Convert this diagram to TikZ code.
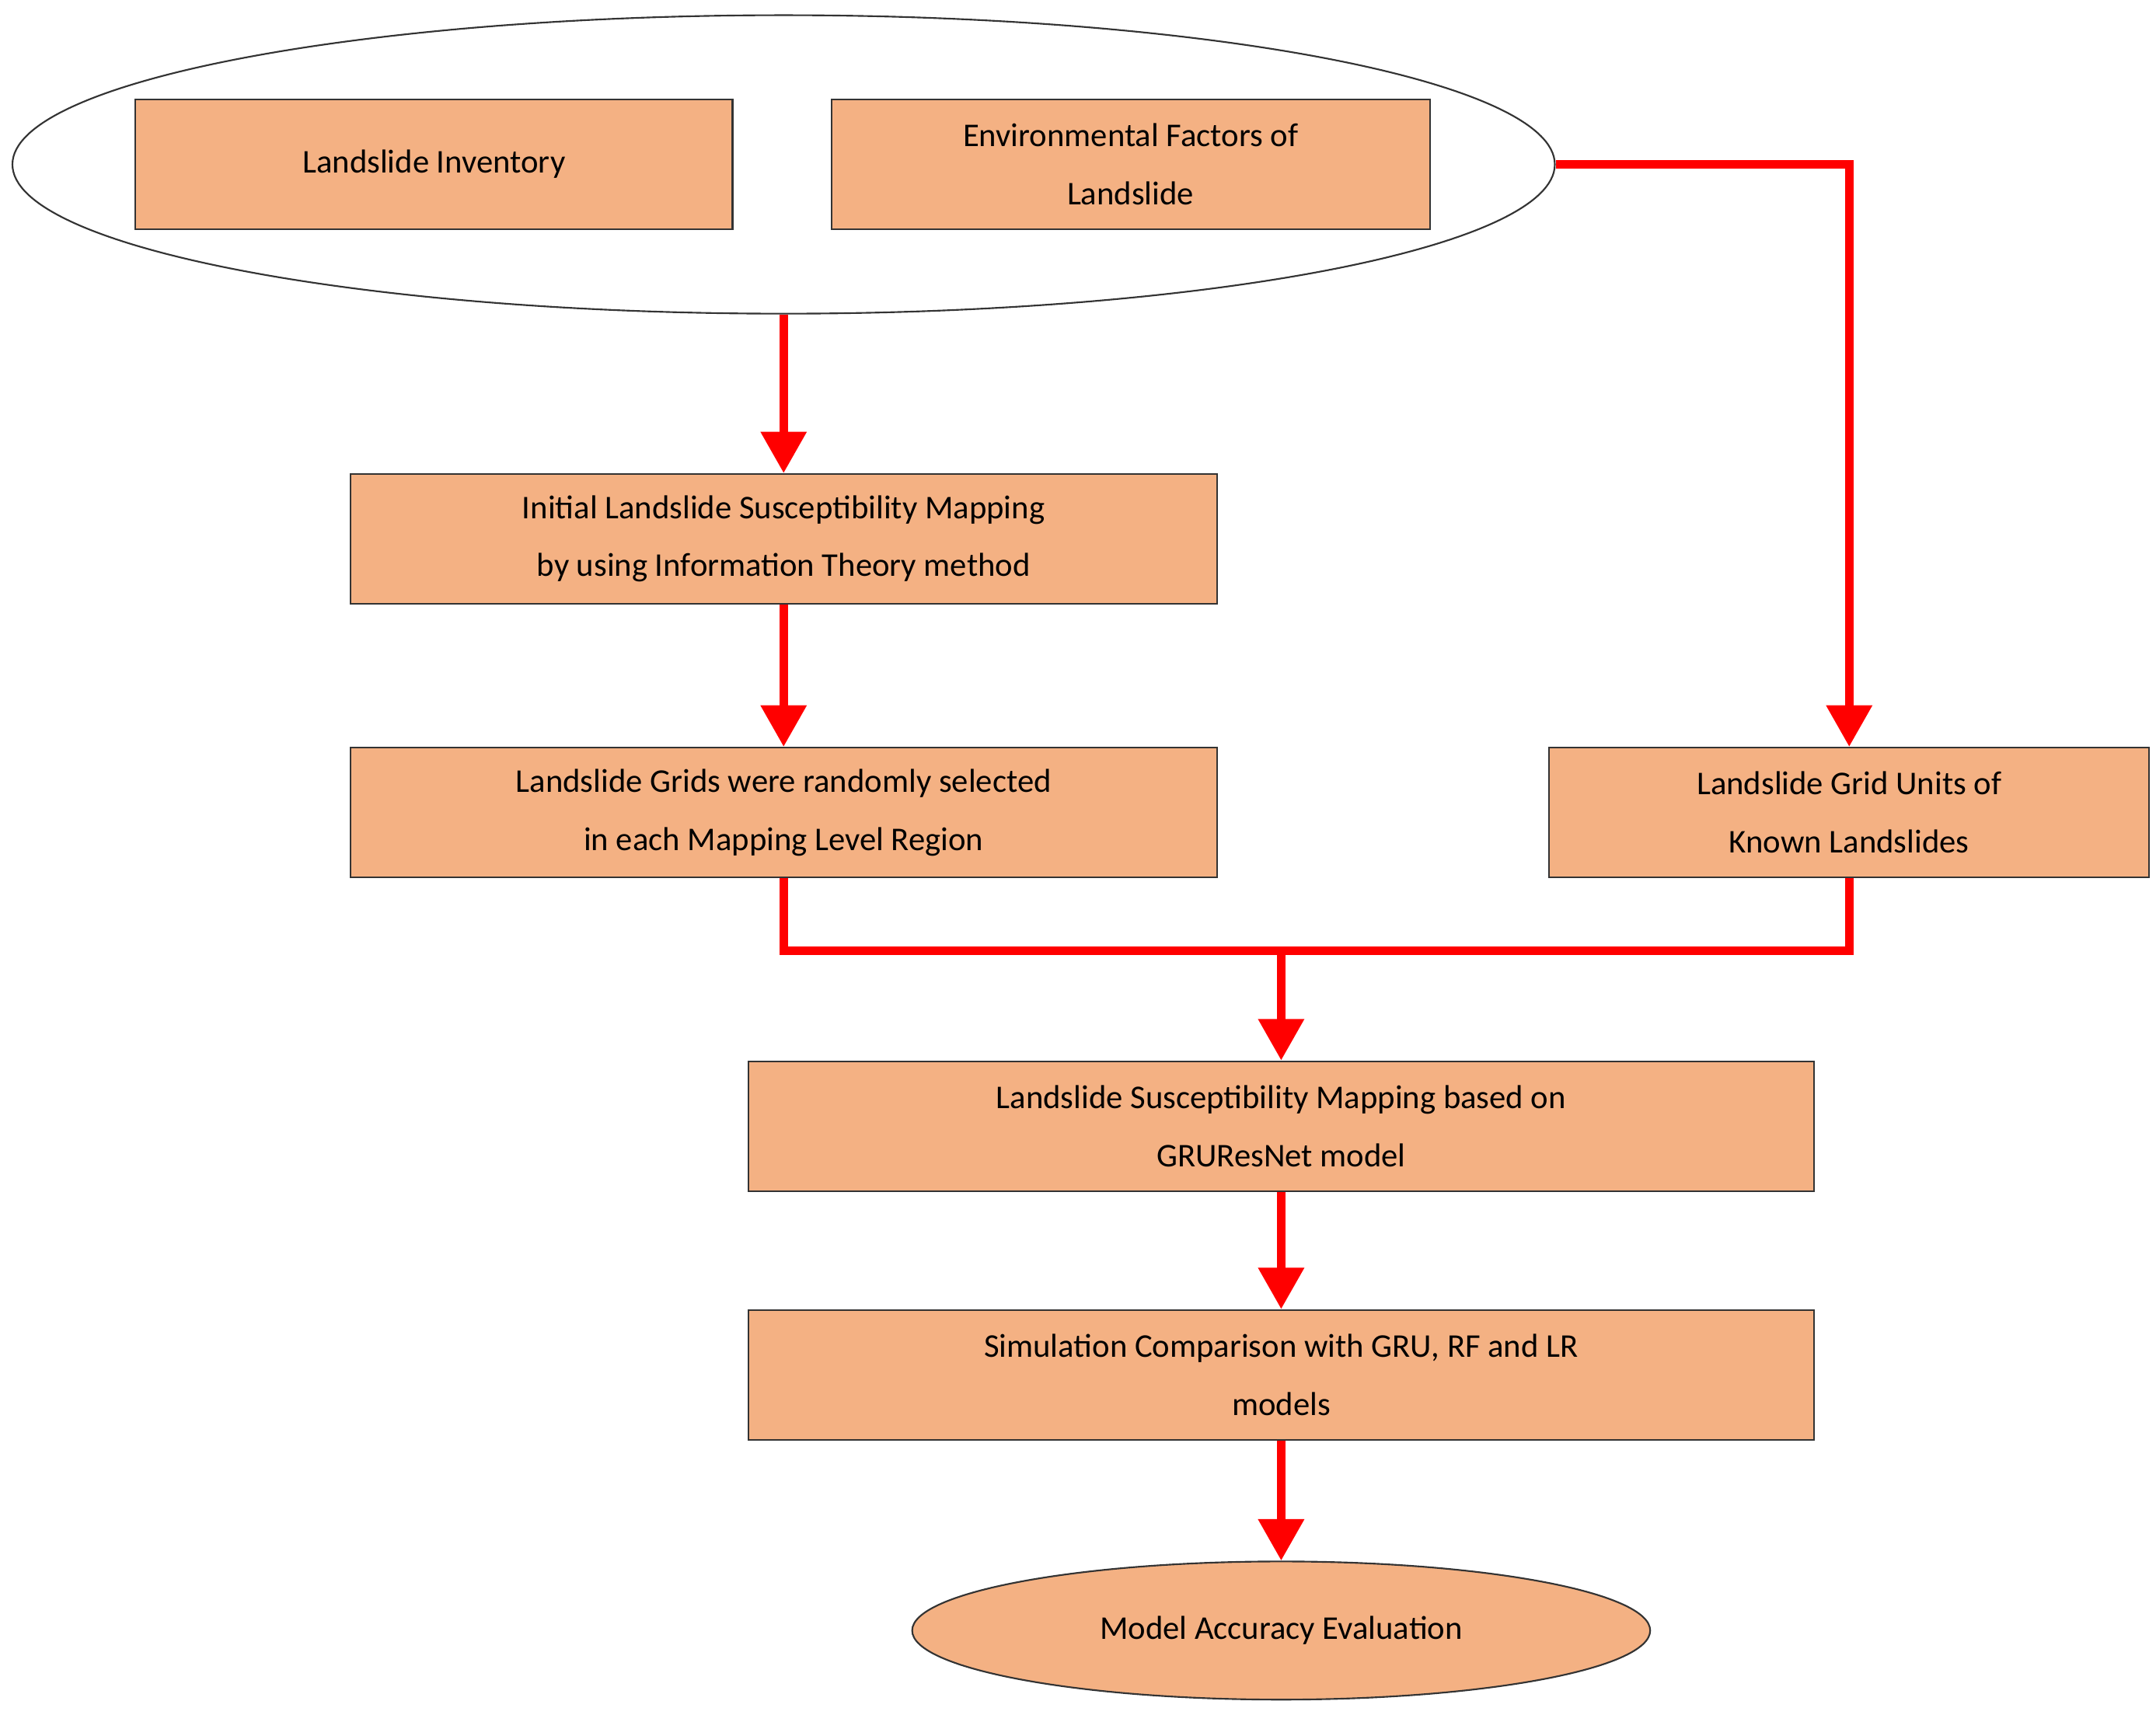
\documentclass[tikz,border=0pt]{standalone}
\usepackage{fontspec}
\setmainfont{Carlito}
\usetikzlibrary{shapes.geometric,arrows.meta}
\definecolor{boxfill}{HTML}{F4B183}
\begin{document}
\begin{tikzpicture}[x=1pt,y=-1pt,
  box/.style={draw=black!80,line width=1.2pt,fill=boxfill,align=center,font=\fontsize{24}{42}\selectfont,inner sep=0pt},
  arr/.style={draw=red,line width=6pt,-{Triangle[length=30pt,width=32pt]}},
  ln/.style={draw=red,line width=6pt}]
\useasboundingbox (0,0) rectangle (1560,1241);
\node[draw=black!80,line width=1.2pt,ellipse,minimum width=1116pt,minimum height=216pt,inner sep=0pt] (top) at (567,119) {};
\node[box,minimum width=432pt,minimum height=94pt] (inv) at (314,119) {Landslide Inventory};
\node[box,minimum width=433pt,minimum height=94pt] (env) at (818,119) {Environmental Factors of\\Landslide};
\node[box,minimum width=627pt,minimum height=94pt] (init) at (567,390) {Initial Landslide Susceptibility Mapping\\by using Information Theory method};
\node[box,minimum width=627pt,minimum height=94pt] (grid) at (567,588) {Landslide Grids were randomly selected\\in each Mapping Level Region};
\node[box,minimum width=434pt,minimum height=94pt] (known) at (1338,588) {Landslide Grid Units of\\Known Landslides};
\node[box,minimum width=771pt,minimum height=94pt] (gru) at (927,815) {Landslide Susceptibility Mapping based on\\GRUResNet model};
\node[box,minimum width=771pt,minimum height=94pt] (sim) at (927,995) {Simulation Comparison with GRU, RF and LR\\models};
\node[box,ellipse,minimum width=534pt,minimum height=100pt] (eval) at (927,1180) {Model Accuracy Evaluation};
\coordinate (j) at (927,688);
\draw[arr] (top.south) -- (init.north);
\draw[arr] (init.south) -- (grid.north);
\draw[arr] (top.east) -| (known.north);
\draw[ln] (grid.south) |- (j) -| (known.south);
\draw[arr] (j) -- (gru.north);
\draw[arr] (gru.south) -- (sim.north);
\draw[arr] (sim.south) -- (eval.north);
\end{tikzpicture}
\end{document}
